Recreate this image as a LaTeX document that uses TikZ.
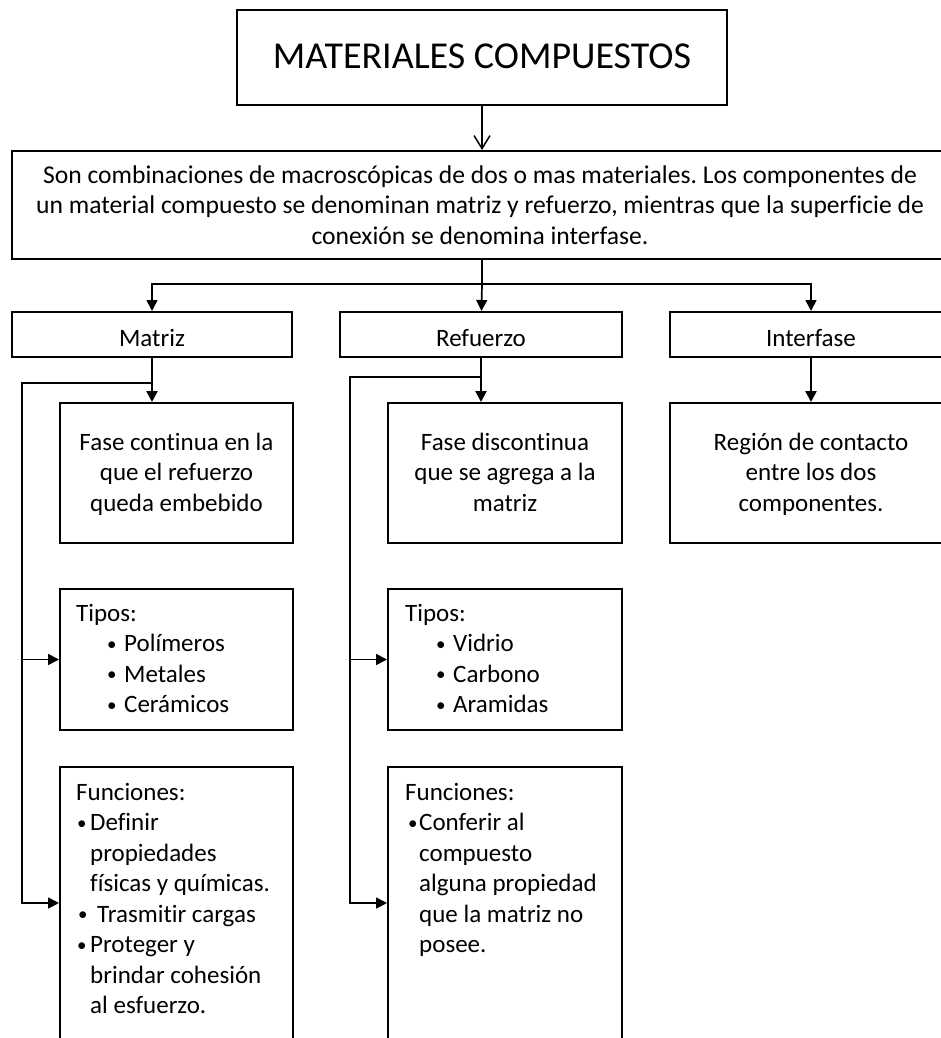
\documentclass[tikz,border=0pt]{standalone}
\usepackage{fontspec}
\setmainfont[Ligatures={NoCommon}]{Carlito}
\usetikzlibrary{arrows.meta}
\frenchspacing
\newcommand{\mylines}[2]{\begin{tabular}[t]{@{}#1@{}}#2\end{tabular}}
\newcommand{\bul}[1]{\makebox[#1][l]{\raisebox{1.2pt}{\fontsize{19}{19}\selectfont\textbullet}}}
\begin{document}
\begin{tikzpicture}[x=1pt,y=-1pt,
  box/.style={draw, line width=2pt, inner sep=0pt, rectangle},
  txt/.style={inner sep=0pt, font=\fontsize{25}{30.5}\selectfont},
  conn/.style={line width=2.4pt, -{Triangle[length=11pt,width=11pt]}},
  branch/.style={line width=1.7pt, -{Triangle[length=11pt,width=11pt]}},
  openarrow/.style={line width=1.5pt, -{Straight Barb[length=13pt,width=16pt]}},
]
\useasboundingbox (0,0) rectangle (940,1038);

% boxes
\node[box, minimum width=490pt, minimum height=95pt] (title) at (482,57.5) {};
\node[box, minimum width=940pt, minimum height=108pt] (intro) at (482,205) {};
\node[box, minimum width=280pt, minimum height=45pt] (matriz) at (152,334.5) {};
\node[box, minimum width=282pt, minimum height=45pt] (refuerzo) at (481,334.5) {};
\node[box, minimum width=282pt, minimum height=45pt] (interfase) at (811,334.5) {};
\node[box, minimum width=233pt, minimum height=140pt] (fase1) at (176.5,473) {};
\node[box, minimum width=234pt, minimum height=140pt] (fase2) at (505,473) {};
\node[box, minimum width=282pt, minimum height=140pt] (region) at (811,473) {};
\node[box, minimum width=233pt, minimum height=141pt] (tipos1) at (176.5,659.5) {};
\node[box, minimum width=234pt, minimum height=141pt] (tipos2) at (505,659.5) {};
\node[box, minimum width=233pt, minimum height=272pt] (func1) at (176.5,903) {};
\node[box, minimum width=234pt, minimum height=272pt] (func2) at (505,903) {};

% texts
\node[inner sep=0pt, anchor=base, font=\fontsize{38}{44}\selectfont] (titlet) at (482,69) {MATERIALES COMPUESTOS};
\node[inner sep=0pt, anchor=base, font=\fontsize{25.6}{30.5}\selectfont] (introt) at (480,183) {\mylines{c}{Son combinaciones de macroscópicas de dos o mas materiales. Los componentes de\\un material compuesto se denominan matriz y refuerzo, mientras que la superficie de\\conexión se denomina interfase.}};
\node[txt, anchor=base] (matrizt) at (152,346.5) {Matriz};
\node[txt, anchor=base] (refuerzot) at (481,346.5) {Refuerzo};
\node[txt, anchor=base] (interfaset) at (811,346.5) {Interfase};
\node[txt, anchor=base] (fase1t) at (176.5,450) {\mylines{c}{Fase continua en la\\que el refuerzo\\queda embebido}};
\node[txt, anchor=base] (fase2t) at (505,450) {\mylines{c}{Fase discontinua\\que se agrega a la\\matriz}};
\node[txt, anchor=base] (regiont) at (811,450) {\mylines{c}{Región de contacto\\entre los dos\\componentes.}};
\node[txt, anchor=base west] (tipos1t) at (76,621) {\mylines{l}{Tipos:\\\hspace*{31pt}\bul{17pt}Polímeros\\\hspace*{31pt}\bul{17pt}Metales\\\hspace*{31pt}\bul{17pt}Cerámicos}};
\node[txt, anchor=base west] (tipos2t) at (405,621) {\mylines{l}{Tipos:\\\hspace*{31pt}\bul{17pt}Vidrio\\\hspace*{31pt}\bul{17pt}Carbono\\\hspace*{31pt}\bul{17pt}Aramidas}};
\node[txt, anchor=base west] (func1t) at (76,800) {\mylines{l}{Funciones:\\\hspace*{1pt}\bul{13pt}Definir\\\hspace*{14pt}propiedades\\\hspace*{14pt}físicas y químicas.\\\hspace*{2pt}\bul{19pt}Trasmitir cargas\\\hspace*{1pt}\bul{13pt}Proteger y\\\hspace*{14pt}brindar cohesión\\\hspace*{14pt}al esfuerzo.}};
\node[txt, anchor=base west] (func2t) at (405,800) {\mylines{l}{Funciones:\\\hspace*{3pt}\bul{11pt}Conferir al\\\hspace*{14pt}compuesto\\\hspace*{14pt}alguna propiedad\\\hspace*{14pt}que la matriz no\\\hspace*{14pt}posee.}};

% connectors
\draw[openarrow] (title) -- (intro);
\coordinate (split) at (482,284);
\draw[line width=2.4pt] (intro.south) -- (split);
\draw[branch] (split) -| (interfase);
\draw[branch] (split) -| (matriz);
\draw[branch] (split) -- (refuerzo);

\draw[conn] (matriz.south) -- (matriz.south |- fase1.north);
\draw[conn] (refuerzo.south) -- (refuerzo.south |- fase2.north);
\draw[conn] (interfase) -- (region);

\coordinate (mjoin) at (152,383);
\coordinate (mrail) at (22,383);
\draw[branch] (mjoin) -- (mrail) |- (tipos1.west);
\draw[branch] (mrail) |- (func1.west);

\coordinate (rjoin) at (481,377);
\coordinate (rrail) at (350,377);
\draw[branch] (rjoin) -- (rrail) |- (tipos2.west);
\draw[branch] (rrail) |- (func2.west);
\end{tikzpicture}
\end{document}
